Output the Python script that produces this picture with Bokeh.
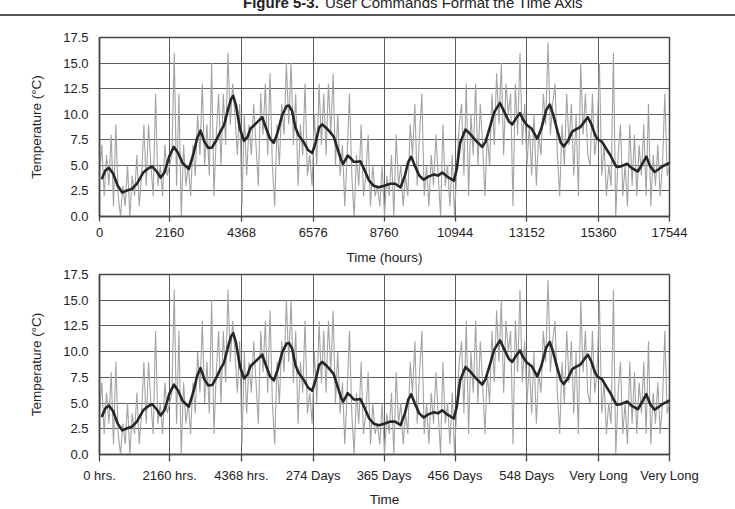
import numpy as np
from bokeh.plotting import figure
from bokeh.layouts import column
from bokeh.models import Range1d, FixedTicker, Div
from bokeh.embed import file_html
from bokeh.resources import INLINE

FONT = "Liberation Sans"

# Axis ticks and labels
hour_ticks = [0, 2160, 4368, 6576, 8760, 10944, 13152, 15360, 17544]
hour_labels_top = ["0", "2160", "4368", "6576", "8760", "10944", "13152", "15360", "17544"]
hour_labels_bottom = ["0 hrs.", "2160 hrs.", "4368 hrs.", "274 Days", "365 Days",
                      "456 Days", "548 Days", "Very Long", "Very Long"]
temp_ticks = [0, 2.5, 5, 7.5, 10, 12.5, 15, 17.5]
temp_labels = ["0.0", "2.5", "5.0", "7.5", "10.0", "12.5", "15.0", "17.5"]

caption_bold = "Figure 5-3."
caption_text = "User Commands Format the Time Axis"

# Raw temperature samples (evenly spaced over two years of hours)
raw_temp = [
    4, 7, 2, 6, 3, 8, 1, 9, 2, 0, 3, 1, 5, 0, 4, 2, 6, 1, 4, 9, 3, 9, 5, 2, 12, 3, 5, 2, 7, 4,
    5, 6, 16, 3, 12, 0, 7, 3, 5, 2, 7, 4, 10, 6, 13, 5, 9, 4, 15, 2, 8, 12, 5, 12, 7, 16, 9, 13, 10, 6,
    11, 1, 10, 4, 9, 6, 11, 7, 3, 12, 8, 13, 6, 14, 5, 1, 9, 5, 11, 8, 15, 9, 15, 7, 12, 3, 9, 6, 13, 4,
    6, 3, 10, 5, 13, 7, 12, 6, 13, 8, 14, 5, 10, 4, 7, 1, 6, 12, 4, 0, 6, 3, 9, 2, 4, 8, 1, 5, 2, 3,
    1, 5, 0, 4, 2, 6, 0, 8, 3, 5, 1, 4, 2, 9, 6, 11, 3, 8, 12, 2, 5, 1, 6, 3, 8, 4, 0, 9, 3, 5,
    1, 6, 0, 5, 9, 11, 4, 13, 2, 10, 6, 13, 5, 11, 7, 2, 8, 5, 12, 7, 14, 9, 15, 6, 13, 10, 12, 1, 13, 8,
    16, 7, 11, 5, 9, 4, 10, 3, 8, 6, 12, 9, 17, 8, 11, 13, 6, 2, 9, 5, 12, 7, 11, 4, 10, 2, 15, 8, 12, 6,
    5, 12, 6, 8, 15, 4, 7, 2, 5, 3, 16, 0, 6, 9, 2, 5, 1, 9, 3, 8, 2, 7, 4, 9, 2, 11, 1, 6, 3, 7,
    2, 5, 12, 4, 5,
]
raw_hours = np.linspace(0, 17544, len(raw_temp))

# Smoothed trend
smooth_hours = [
    80, 180, 290, 420, 560, 700, 850, 1000, 1150, 1345, 1480, 1620, 1760, 1880, 2000, 2150,
    2290, 2420, 2560, 2750, 2900, 3000, 3110, 3230, 3350, 3470, 3600, 3720, 3830, 3950, 4050,
    4115, 4200, 4320, 4450, 4560, 4650, 4750, 4880, 5010, 5130, 5250, 5365, 5480, 5620, 5760,
    5830, 5930, 6030, 6135, 6280, 6420, 6545, 6650, 6760, 6855, 7000, 7110, 7210, 7330, 7440,
    7500, 7580, 7640, 7730, 7825, 7930, 8030, 8150, 8300, 8440, 8600, 8760, 8955, 9100, 9265,
    9400, 9500, 9595, 9700, 9840, 9980, 10120, 10290, 10420, 10550, 10700, 10905, 11000, 11100,
    11265, 11400, 11575, 11780, 11880, 11985, 12150, 12325, 12450, 12600, 12705, 12820, 12940,
    13050, 13165, 13300, 13475, 13600, 13750, 13860, 13960, 14100, 14200, 14290, 14420, 14550,
    14650, 14805, 14930, 15030, 15130, 15250, 15320, 15470, 15600, 15730, 15830, 15915, 16050,
    16240, 16400, 16570, 16700, 16830, 16950, 17085, 17200, 17320, 17450, 17544,
]
smooth_temp = [
    3.75, 4.5, 4.75, 4.2, 3.0, 2.35, 2.55, 2.7, 3.2, 4.3, 4.65, 4.9, 4.4, 3.8, 4.3, 5.9,
    6.8, 6.2, 5.2, 4.65, 6.2, 7.6, 8.4, 7.3, 6.7, 6.75, 7.5, 8.3, 8.9, 10.4, 11.5,
    11.8, 10.9, 8.6, 7.4, 7.8, 8.6, 8.9, 9.3, 9.7, 8.6, 7.6, 7.2, 8.2, 9.9, 10.8,
    10.85, 10.3, 8.7, 7.9, 7.3, 6.5, 6.2, 7.2, 8.7, 9.0, 8.6, 8.2, 7.8, 6.6, 5.5,
    5.15, 5.6, 5.96, 5.7, 5.35, 5.35, 5.4, 4.6, 3.5, 3.0, 2.85, 3.0, 3.2, 3.2, 2.85,
    4.0, 5.3, 5.86, 5.0, 4.0, 3.6, 3.9, 4.1, 4.0, 4.3, 3.9, 3.5, 4.7, 7.2,
    8.5, 8.1, 7.45, 6.8, 7.3, 8.4, 10.2, 11.1, 10.3, 9.3, 9.0, 9.6, 10.1,
    9.4, 8.9, 8.6, 7.6, 8.6, 10.4, 10.95, 10.0, 8.3, 7.2, 6.85, 7.4, 8.3,
    8.5, 8.75, 9.3, 9.7, 9.1, 8.0, 7.6, 7.3, 6.6, 5.96, 5.3, 4.85, 4.9,
    5.15, 4.7, 4.4, 5.1, 5.86, 4.9, 4.35, 4.6, 4.89, 5.1, 5.25,
]

FRAME = "#474747"
GRID = "#5c5c5c"
TEXT = "#222222"


def make_panel(height, top, bottom, x_labels, x_title, tick_out, label_standoff, title_standoff):
    p = figure(width=735, height=height,
               x_range=Range1d(0, 17544), y_range=Range1d(0, 17.5),
               output_backend="svg", toolbar_location=None,
               min_border_left=99, min_border_right=66,
               min_border_top=top, min_border_bottom=bottom)
    p.background_fill_color = "white"
    p.border_fill_color = "white"
    p.outline_line_color = FRAME
    p.outline_line_width = 1.5

    p.xaxis.ticker = FixedTicker(ticks=hour_ticks)
    p.xaxis.major_label_overrides = {t: s for t, s in zip(hour_ticks, x_labels)}
    p.yaxis.ticker = FixedTicker(ticks=temp_ticks)
    p.yaxis.major_label_overrides = {t: s for t, s in zip(temp_ticks, temp_labels)}
    p.xgrid.ticker = FixedTicker(ticks=hour_ticks)
    p.ygrid.ticker = FixedTicker(ticks=temp_ticks)
    p.grid.grid_line_color = GRID
    p.grid.grid_line_width = 1
    p.grid.grid_line_alpha = 1.0

    for ax in p.axis:
        ax.axis_line_color = FRAME
        ax.axis_line_width = 1.5
        ax.major_tick_line_color = FRAME
        ax.major_tick_line_width = 1.3
        ax.major_tick_in = 0
        ax.minor_tick_in = 0
        ax.minor_tick_out = 0
        ax.major_label_text_font = FONT
        ax.major_label_text_font_size = "13px"
        ax.major_label_text_color = TEXT
        ax.axis_label_text_font = FONT
        ax.axis_label_text_font_size = "13.5px"
        ax.axis_label_text_font_style = "normal"
        ax.axis_label_text_color = TEXT

    p.xaxis.major_tick_out = tick_out
    p.xaxis.major_label_standoff = label_standoff
    p.xaxis.axis_label = x_title
    p.xaxis.axis_label_standoff = title_standoff
    p.yaxis.major_tick_out = 0
    p.yaxis.major_label_standoff = 11
    p.yaxis.axis_label = "Temperature (°C)"
    p.yaxis.axis_label_standoff = 16

    p.line(raw_hours, raw_temp, line_color="#a3a3a3", line_width=1.1)
    p.line(smooth_hours, smooth_temp, line_color="#262626", line_width=2.6,
           line_join="round", line_cap="round")
    return p


# Caption strip: text partly above the page edge, with a rule under it
header_html = (
    '<div style="position:relative;width:735px;height:24px;overflow:hidden;'
    "font-family:'Liberation Sans',Arial,sans-serif;color:#222222;background:white;\">"
    '<span style="position:absolute;left:243px;top:-5px;font-size:15px;line-height:15px;'
    'font-weight:bold;white-space:nowrap;">' + caption_bold + '</span>'
    '<span style="position:absolute;left:325px;top:-5px;font-size:15px;line-height:15px;'
    'white-space:nowrap;">' + caption_text + '</span>'
    '<div style="position:absolute;left:0px;top:14px;width:735px;height:2px;'
    'background:#555555;"></div></div>'
)
header = Div(text=header_html, width=735, height=24, margin=(0, 0, 0, 0))

top_panel = make_panel(244, 13, 52, hour_labels_top, "Time (hours)", 5, 6, 10)
bottom_panel = make_panel(241, 6, 55, hour_labels_bottom, "Time", 7, 6, 6)

layout = column(header, top_panel, bottom_panel, spacing=0)
open("out.html", "w").write(file_html(layout, INLINE))
